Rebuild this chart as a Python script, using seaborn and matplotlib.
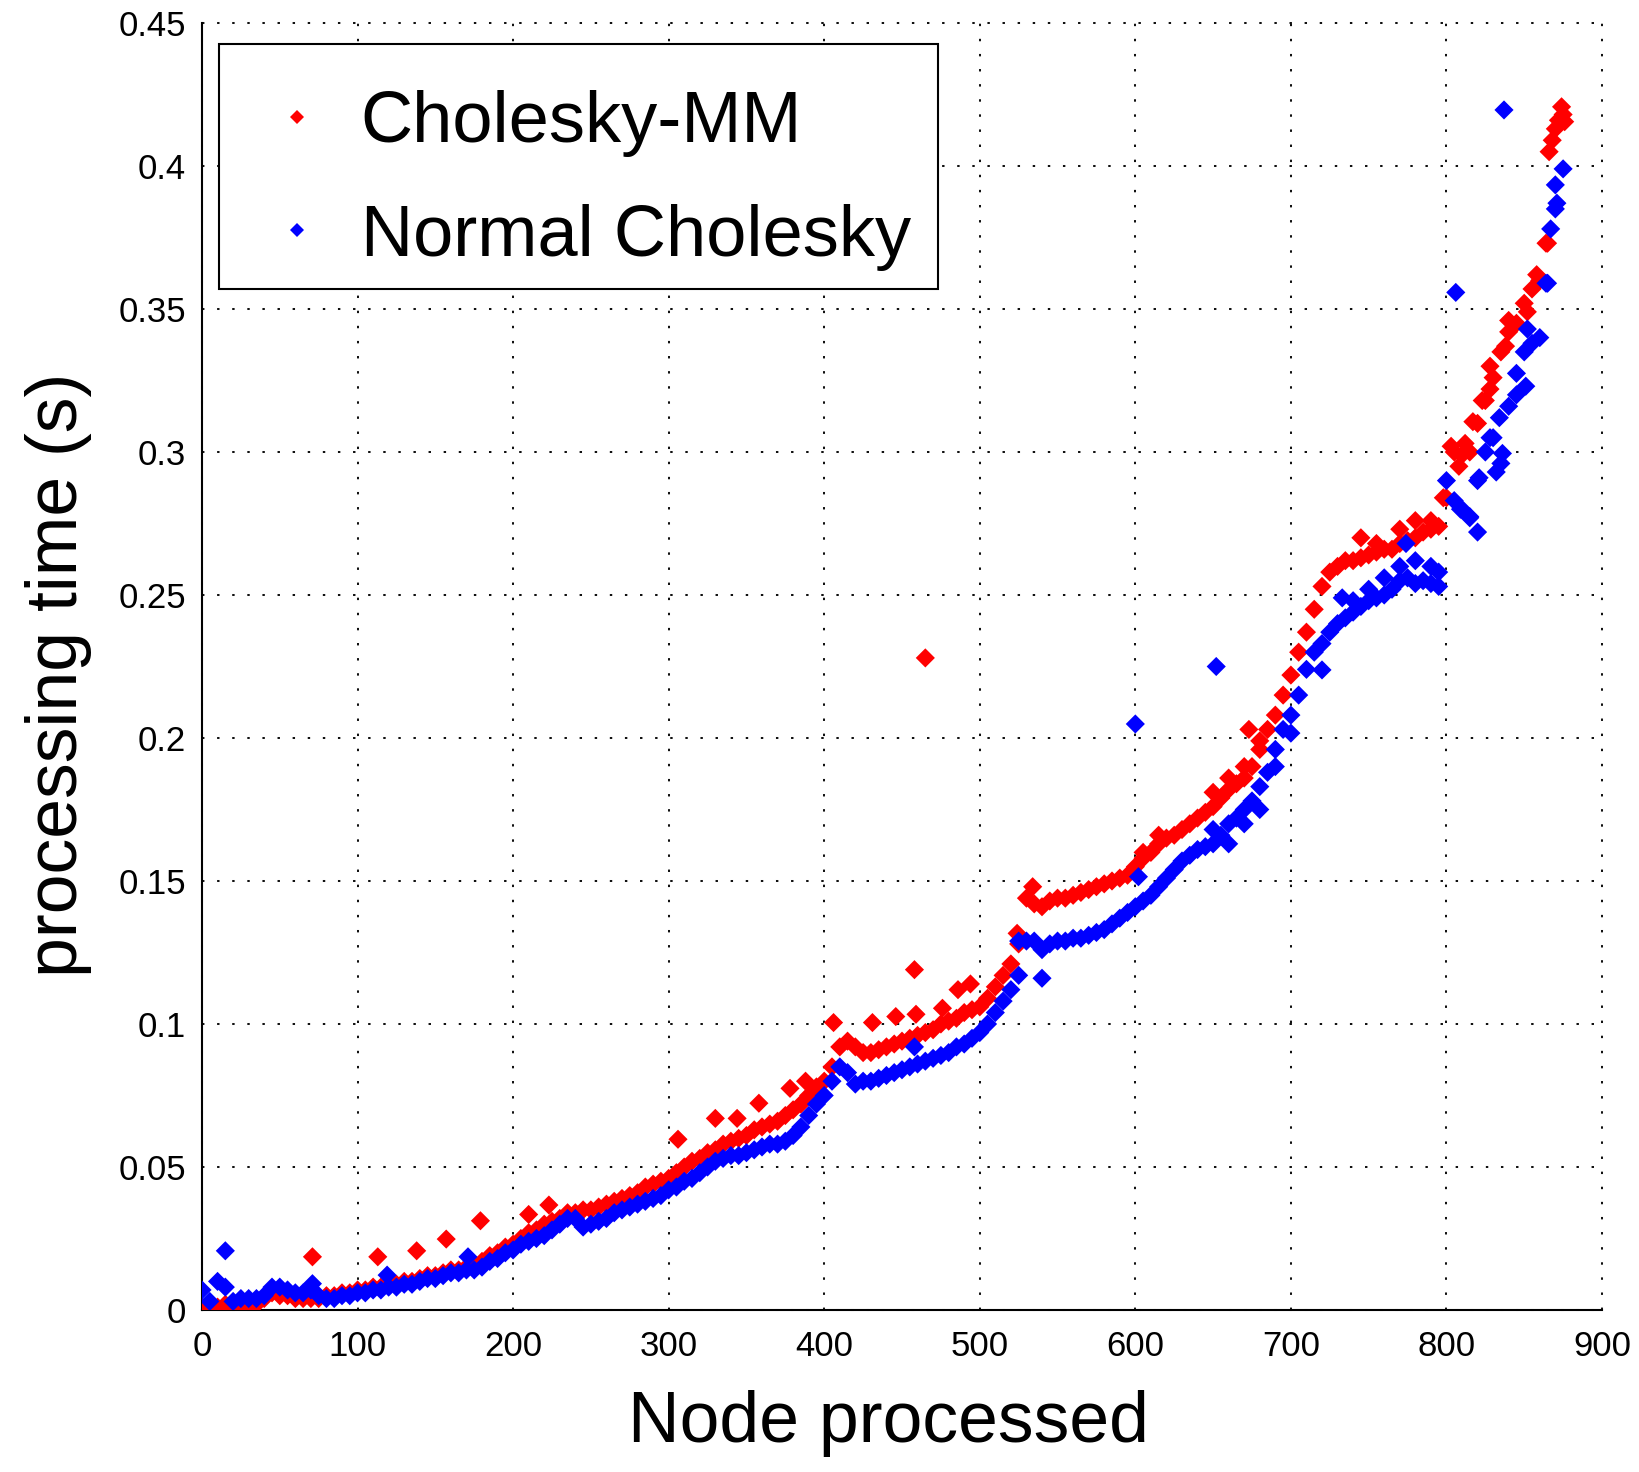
import numpy as np
import pandas as pd
import matplotlib
matplotlib.use("Agg")
import matplotlib.pyplot as plt
from matplotlib.lines import Line2D
from matplotlib.patches import Rectangle
import seaborn as sns

# ---------------- data ----------------
node_main = list(range(0, 880, 5))

mm_main = [0.001, 0.000, 0.001, 0.002, 0.000, 0.000, 0.001, 0.002, 0.004, 0.006,
           0.005, 0.005, 0.004, 0.004, 0.004, 0.004, 0.005, 0.005, 0.006, 0.006,
           0.007, 0.007, 0.008, 0.008, 0.009, 0.009, 0.010, 0.010, 0.011, 0.012,
           0.012, 0.013, 0.014, 0.014, 0.015, 0.016, 0.017, 0.019, 0.020, 0.022,
           0.023, 0.025, 0.027, 0.028, 0.030, 0.031, 0.032, 0.034, 0.034, 0.035,
           0.035, 0.036, 0.037, 0.038, 0.039, 0.040, 0.041, 0.043, 0.044, 0.045,
           0.046, 0.048, 0.050, 0.052, 0.053, 0.055, 0.056, 0.058, 0.059, 0.060,
           0.061, 0.063, 0.064, 0.065, 0.066, 0.068, 0.070, 0.072, 0.075, 0.078,
           0.080, 0.085, 0.092, 0.094, 0.092, 0.090, 0.090, 0.091, 0.092, 0.093,
           0.094, 0.095, 0.096, 0.097, 0.098, 0.100, 0.101, 0.102, 0.104, 0.105,
           0.106, 0.109, 0.113, 0.117, 0.121, 0.128, 0.144, 0.142, 0.141, 0.143,
           0.144, 0.144, 0.145, 0.146, 0.147, 0.148, 0.149, 0.150, 0.151, 0.152,
           0.155, 0.158, 0.160, 0.163, 0.165, 0.166, 0.168, 0.170, 0.172, 0.174,
           0.176, 0.179, 0.182, 0.184, 0.186, 0.190, 0.196, 0.203, 0.208, 0.215,
           0.222, 0.230, 0.237, 0.245, 0.253, 0.258, 0.260, 0.262, 0.262, 0.263,
           0.264, 0.265, 0.266, 0.266, 0.268, 0.269, 0.270, 0.272, 0.273, 0.274,
           0.284, 0.300, 0.299, 0.300, 0.310, 0.318, 0.326, 0.335, 0.342, 0.345,
           0.352, 0.357, 0.360, 0.373, 0.413, 0.418]

normal_main = [0.007, 0.003, 0.010, 0.008, 0.003, 0.004, 0.004, 0.004, 0.005, 0.008,
               0.008, 0.007, 0.006, 0.006, 0.007, 0.005, 0.004, 0.004, 0.005, 0.005,
               0.006, 0.006, 0.007, 0.007, 0.008, 0.008, 0.009, 0.009, 0.010, 0.011,
               0.011, 0.012, 0.013, 0.013, 0.014, 0.014, 0.015, 0.017, 0.018, 0.020,
               0.021, 0.023, 0.024, 0.025, 0.026, 0.028, 0.030, 0.032, 0.032, 0.029,
               0.030, 0.031, 0.032, 0.034, 0.035, 0.036, 0.037, 0.038, 0.039, 0.040,
               0.042, 0.043, 0.045, 0.046, 0.048, 0.050, 0.052, 0.053, 0.054, 0.054,
               0.055, 0.056, 0.057, 0.058, 0.058, 0.059, 0.061, 0.064, 0.068, 0.072,
               0.075, 0.080, 0.085, 0.083, 0.079, 0.080, 0.080, 0.081, 0.082, 0.083,
               0.084, 0.085, 0.086, 0.087, 0.088, 0.089, 0.090, 0.092, 0.093, 0.095,
               0.097, 0.100, 0.104, 0.108, 0.112, 0.117, 0.129, 0.129, 0.126, 0.128,
               0.129, 0.129, 0.130, 0.130, 0.131, 0.132, 0.133, 0.135, 0.137, 0.139,
               0.141, 0.143, 0.145, 0.148, 0.151, 0.154, 0.157, 0.159, 0.161, 0.162,
               0.163, 0.166, 0.170, 0.172, 0.175, 0.178, 0.183, 0.188, 0.196, 0.203,
               0.208, 0.215, 0.224, 0.230, 0.233, 0.237, 0.240, 0.242, 0.244, 0.246,
               0.248, 0.249, 0.250, 0.252, 0.255, 0.256, 0.254, 0.255, 0.254, 0.253,
               0.290, 0.283, 0.280, 0.277, 0.290, 0.300, 0.305, 0.296, 0.316, 0.320,
               0.335, 0.338, 0.340, 0.359, 0.385, 0.399]

# scattered / off-band points
mm_extra_node = [71, 113, 138, 157, 179, 210, 223, 306, 330, 344, 358, 378, 388,
                 406, 431, 446, 459, 458, 465, 476, 486, 494, 524, 534, 673,
                 605, 615, 650, 660, 670, 680, 745, 755, 770, 780, 790,
                 798, 803, 808, 812, 817, 823, 828, 828, 838, 840, 852, 858,
                 864, 866, 868, 872, 874, 876]
mm_extra_time = [0.0186, 0.0186, 0.0207, 0.0248, 0.0312, 0.0334, 0.0367, 0.0597,
                 0.067, 0.067, 0.0723, 0.0775, 0.080, 0.1005, 0.1005, 0.1026,
                 0.1034, 0.119, 0.228, 0.1055, 0.112, 0.114, 0.1317, 0.148, 0.203,
                 0.160, 0.166, 0.181, 0.186, 0.190, 0.199, 0.270, 0.268, 0.273,
                 0.276, 0.276, 0.284, 0.302, 0.295, 0.303, 0.3106, 0.318, 0.322,
                 0.330, 0.337, 0.346, 0.349, 0.362, 0.373, 0.405, 0.409, 0.416,
                 0.4207, 0.4155]

normal_extra_node = [15, 71, 119, 171, 458, 525, 540, 602, 600, 652, 650, 660, 670,
                     680, 690, 700, 720, 733, 740, 750, 760, 770, 774, 780, 790,
                     795, 809, 806, 815, 820, 821, 828, 832, 834, 836, 837, 845,
                     851, 852, 864, 867, 870, 871]
normal_extra_time = [0.0207, 0.0092, 0.0122, 0.0186, 0.092, 0.129, 0.116, 0.1515,
                     0.2049, 0.225, 0.168, 0.163, 0.170, 0.175, 0.190, 0.2017,
                     0.2238, 0.249, 0.248, 0.252, 0.256, 0.260, 0.268, 0.262, 0.260,
                     0.258, 0.280, 0.3558, 0.2774, 0.272, 0.291, 0.305, 0.293,
                     0.312, 0.2995, 0.4196, 0.3275, 0.323, 0.343, 0.359, 0.378,
                     0.3934, 0.387]

series_names = ["Cholesky-MM", "Normal Cholesky"]
series_colors = ["#ff0000", "#0000ff"]
x_ticks = [0, 100, 200, 300, 400, 500, 600, 700, 800, 900]
y_ticks = [0, 0.05, 0.1, 0.15, 0.2, 0.25, 0.3, 0.35, 0.4, 0.45]
y_tick_labels = ["0", "0.05", "0.1", "0.15", "0.2", "0.25", "0.3", "0.35", "0.4", "0.45"]

# ---------------- frame ----------------
df = pd.concat([
    pd.DataFrame({"node": node_main + mm_extra_node,
                  "time": mm_main + mm_extra_time,
                  "series": series_names[0]}),
    pd.DataFrame({"node": node_main + normal_extra_node,
                  "time": normal_main + normal_extra_time,
                  "series": series_names[1]}),
], ignore_index=True)

sns.set_style("white")
plt.rcParams["font.family"] = ["Liberation Sans", "DejaVu Sans"]
plt.rcParams["text.color"] = "black"
plt.rcParams["axes.labelcolor"] = "black"
plt.rcParams["xtick.color"] = "black"
plt.rcParams["ytick.color"] = "black"

W, H = 1640, 1472
fig = plt.figure(figsize=(W / 100, H / 100), dpi=100)
ax = fig.add_axes([202 / W, 1 - 1310 / H, 1400 / W, 1287 / H])

palette = dict(zip(series_names, series_colors))
sns.scatterplot(data=df, x="node", y="time", hue="series", palette=palette,
                marker="D", s=95, linewidth=0, legend=False, ax=ax, zorder=3)

ax.set_xlim(0, 900)
ax.set_ylim(0, 0.45)
ax.set_xticks(x_ticks)
ax.set_xticklabels([str(t) for t in x_ticks])
ax.set_yticks(y_ticks)
ax.set_yticklabels(y_tick_labels)

for sp in ["top", "right"]:
    ax.spines[sp].set_visible(False)
for sp in ["left", "bottom"]:
    ax.spines[sp].set_color("black")
    ax.spines[sp].set_linewidth(1.5)

ax.tick_params(axis="both", direction="in", length=10, width=1.4, colors="black",
               labelsize=25, labelcolor="black")
ax.tick_params(axis="x", pad=14.5)
ax.tick_params(axis="y", pad=11.5)

ax.grid(True, color="#111111", linestyle=(0, (1.2, 6.3)), linewidth=1.45)
ax.set_axisbelow(True)
for gl in ax.get_xgridlines() + ax.get_ygridlines():
    gl.set_clip_on(False)

ax.set_xlabel("Node processed", fontsize=51.5, color="black")
ax.set_ylabel("processing time (s)", fontsize=51.5, color="black")
ax.xaxis.set_label_coords(0.4907, -0.062)
ax.yaxis.set_label_coords(-0.0786, 0.4934)

# legend frame (MATLAB style box)
frame = Rectangle(((219 - 202) / 1400, (1310 - 289) / 1287), 719 / 1400, 245 / 1287,
                  transform=ax.transAxes, facecolor="white", edgecolor="black",
                  linewidth=1.5, zorder=4, clip_on=False)
ax.add_patch(frame)

handles = [Line2D([0], [0], marker="D", linestyle="", markersize=7,
                  markerfacecolor=c, markeredgewidth=0, color=c)
           for c in series_colors]
leg = ax.legend(handles, series_names, loc="upper left",
                bbox_to_anchor=(0.0421, 0.9477), borderaxespad=0,
                fontsize=52, frameon=False, handlelength=1.0,
                handletextpad=0.38, borderpad=0.0, labelspacing=0.64)
for t in leg.get_texts():
    t.set_color("black")
leg.set_zorder(5)

fig.savefig("out.png", dpi=100, facecolor="white")
